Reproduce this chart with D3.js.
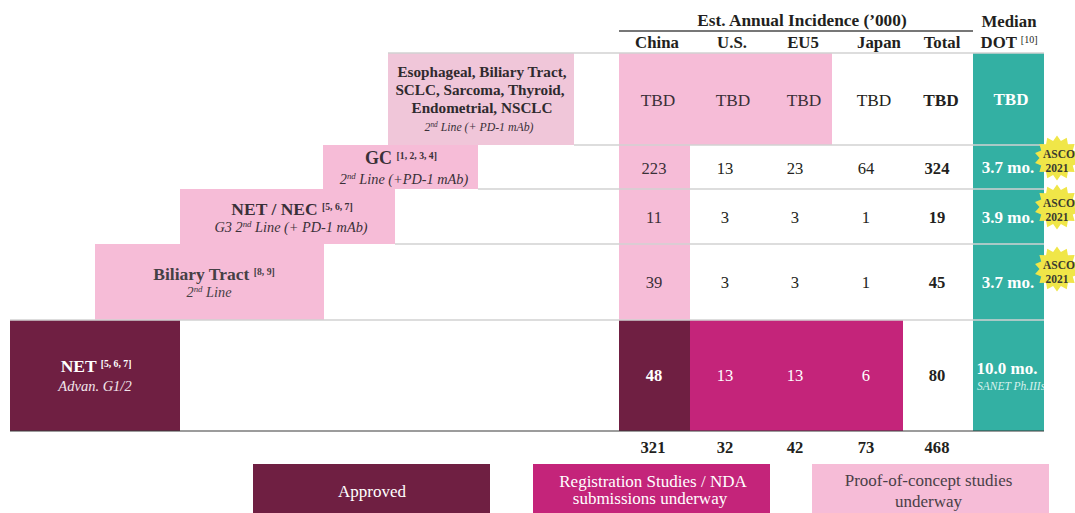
<!DOCTYPE html>
<html>
<head>
<meta charset="utf-8">
<script src="https://cdn.jsdelivr.net/npm/d3@7/dist/d3.min.js"></script>
<style>
html,body{margin:0;padding:0;background:#fff;}
svg{display:block;}
text{font-family:"Liberation Serif",serif;}
rect{shape-rendering:crispEdges;}
</style>
</head>
<body>
<svg id="chart" width="1075" height="513"></svg>
<script>
// Pipeline table: indication labels, regional incidence and duration of treatment
const regions = ["China", "U.S.", "EU5", "Japan", "Total"];
const indications = ["other", "GC", "NEC", "BTC", "NET"];
const chinaValues = ["TBD", 223, 11, 39, 48];
const usValues = ["TBD", 13, 3, 3, 13];
const eu5Values = ["TBD", 23, 3, 3, 13];
const japanValues = ["TBD", 64, 1, 1, 6];
const totalValues = ["TBD", 324, 19, 45, 80];
const columnTotals = [321, 32, 42, 73, 468];
const dotLabels = ["TBD", "3.7 mo.", "3.9 mo.", "3.7 mo.", "10.0 mo."];
const ascoFlags = [false, true, true, true, false];
const stages = ["none", "poc", "reg", "approved"];
const stageLabels = [["Approved"], ["Registration Studies / NDA", "submissions underway"], ["Proof-of-concept studies", "underway"]];
const chinaStages = ["poc", "poc", "poc", "poc", "approved"];
const usStages = ["poc", "none", "none", "none", "reg"];
const eu5Stages = ["poc", "none", "none", "none", "reg"];
const japanStages = ["none", "none", "none", "none", "reg"];

const svg = d3.select("#chart");
const colour = d3.scaleOrdinal(stages, ["none", "#f6bcd7", "#c4247a", "#6f1f42"]);
const TEAL = "#33b0a3", GREY = "#d2d2d2", INK = "#231f20";

// Row and column geometry
const rowEdges = [53, 145, 189, 244, 320, 431];
const rowTop = d3.scaleOrdinal(indications, rowEdges.slice(0, 5));
const rowBottom = d3.scaleOrdinal(indications, rowEdges.slice(1));
const rowMid = r => (rowTop(r) + rowBottom(r)) / 2;
const colX = d3.scaleBand(regions, [619, 974]);
const DOT_LEFT = 973, DOT_RIGHT = 1044;
const colText = d3.scaleOrdinal(regions, [654, 725, 795, 866, 937]);
const tbdText = d3.scaleOrdinal(regions, [658, 733, 804, 874, 941]);
const headText = d3.scaleOrdinal(regions, [657, 732, 803, 879, 942]);

const labelLeft = d3.scaleOrdinal(indications, [388, 323, 180, 95, 10]);
const labelRight = d3.scaleOrdinal(indications, [574, 478, 395, 324, 180]);

svg.append("defs").append("clipPath").attr("id", "dot-clip").append("rect")
  .attr("x", DOT_LEFT).attr("y", rowEdges[0]).attr("width", DOT_RIGHT - DOT_LEFT).attr("height", 378);

function put(parent, x, y, size, fill, opts = {}) {
  return parent.append("text").attr("x", x).attr("y", y)
    .attr("text-anchor", opts.anchor || "middle")
    .attr("font-size", size).attr("fill", fill)
    .attr("font-weight", opts.bold ? "bold" : "normal")
    .attr("font-style", opts.italic ? "italic" : "normal");
}

// Stage fills behind the regional cells
const cellStages = [chinaStages, usStages, eu5Stages, japanStages];
const cellValues = [chinaValues, usValues, eu5Values, japanValues, totalValues];
cellStages.forEach((stageList, c) => {
  svg.append("g").selectAll("rect")
    .data(indications.map((r, i) => ({ r, s: stageList[i] })).filter(d => d.s !== "none"))
    .join("rect")
    .attr("x", colX(regions[c]))
    .attr("width", colX.bandwidth())
    .attr("y", d => rowTop(d.r))
    .attr("height", d => rowBottom(d.r) - rowTop(d.r))
    .attr("fill", d => colour(d.s));
});

// Duration of treatment column
svg.append("rect").attr("x", DOT_LEFT).attr("y", rowEdges[0])
  .attr("width", DOT_RIGHT - DOT_LEFT).attr("height", rowEdges[5] - rowEdges[0]).attr("fill", TEAL);

// Indication labels on the left
const labelFill = ["#f0c6d9", "#f6bcd7", "#f6bcd7", "#f6bcd7", "#6f1f42"];
svg.append("g").selectAll("rect").data(indications).join("rect")
  .attr("x", d => labelLeft(d))
  .attr("width", d => labelRight(d) - labelLeft(d))
  .attr("y", d => rowTop(d))
  .attr("height", d => rowBottom(d) - rowTop(d))
  .attr("fill", (d, i) => labelFill[i]);

// Row rules start where the label block above ends
const ruleStart = [388, 574, 478, 395, 10];
rowEdges.slice(0, 5).forEach((y, i) => {
  svg.append("line").attr("x1", ruleStart[i]).attr("x2", DOT_RIGHT)
    .attr("y1", y).attr("y2", y).attr("stroke", GREY).attr("stroke-width", 1.4);
});
svg.append("line").attr("x1", 10).attr("x2", DOT_RIGHT).attr("y1", 431).attr("y2", 431)
  .attr("stroke", "#3a3a3a").attr("stroke-width", 1.2);
svg.append("line").attr("x1", 619).attr("x2", DOT_LEFT).attr("y1", 31).attr("y2", 31)
  .attr("stroke", "#4a4a4a").attr("stroke-width", 1.4);

// Headers
put(svg, 802, 26, 17.3, INK, { bold: true }).text("Est. Annual Incidence (\u2019000)");
regions.forEach(r => put(svg, headText(r), 48, 16.8, INK, { bold: true }).text(r));
put(svg, 1009, 27, 16.8, INK, { bold: true }).text("Median");
const dotHead = put(svg, 1009, 48, 16.8, INK, { bold: true }).text("DOT ");
dotHead.append("tspan").attr("font-size", 10).attr("font-weight", "normal").attr("dy", -5).text("[10]");

// Incidence values
cellValues.forEach((vals, c) => {
  const region = regions[c];
  vals.forEach((v, i) => {
    const r = indications[i];
    const stage = c < 4 ? cellStages[c][i] : "none";
    const onDark = stage === "approved" || stage === "reg";
    const bold = c === 4 || stage === "approved";
    const tbd = v === "TBD";
    const drop = tbd ? 6.5 : (i === 1 ? 7 : (i === 4 ? 5 : 6));
    put(svg, tbd ? tbdText(region) : colText(region), rowMid(r) + drop, tbd ? 17.3 : 16.6,
      onDark ? "#fff" : (stage === "poc" ? "#3a3038" : INK), { bold }).text(v);
  });
});
columnTotals.forEach((v, i) => put(svg, colText(regions[i]) + (i === 0 ? -1 : 0), 453, 16.6, INK, { bold: true }).text(v));

// Duration labels
const dotGroup = svg.append("g").attr("clip-path", "url(#dot-clip)");
dotLabels.forEach((v, i) => {
  const r = indications[i];
  if (i < 4) put(dotGroup, i === 0 ? 1011 : 1008, rowMid(r) + (i === 0 ? 5.5 : 6), 17, "#fff", { bold: true }).text(v);
  else {
    put(dotGroup, 1007, 374, 17, "#fff", { bold: true }).text(v);
    put(dotGroup, 977, 390, 11.5, "#d8f2ee", { italic: true, anchor: "start" }).text("SANET Ph.IIIs");
  }
});

// ASCO badges
const spikes = 14;
const star = d3.lineRadial().curve(d3.curveLinearClosed)
  .angle((d, i) => i * Math.PI / spikes)
  .radius((d, i) => i % 2 ? 17.5 : 22.5);
const badgeY = [0, 158, 207, 269];
ascoFlags.forEach((on, i) => {
  if (!on) return;
  const g = svg.append("g").attr("transform", `translate(1057,${badgeY[i]})`);
  g.append("path").attr("d", star(d3.range(spikes * 2))).attr("fill", "#f0e648");
  put(g, 2, 0, 11.5, "#3a3a30", { bold: true }).text("ASCO");
  put(g, 0, 13.5, 11.5, "#3a3a30", { bold: true }).text("2021");
});

// Indication text
function withRefs(g, x, y, size, fill, label, refs) {
  const t = put(g, x, y, size, fill, { bold: true }).text(label + " ");
  t.append("tspan").attr("font-size", 9.7).attr("dy", -5).text(refs);
}
function secondLine(g, x, y, size, fill, rest, lead = "") {
  const t = put(g, x, y, size, fill, { italic: true }).text(lead);
  t.append("tspan").text("2");
  t.append("tspan").attr("font-size", size * 0.62).attr("dy", -size * 0.33).text("nd");
  t.append("tspan").attr("dy", size * 0.33).text(" " + rest);
}
const g = svg.append("g");
["Esophageal, Biliary Tract,", "SCLC, Sarcoma, Thyroid,", "Endometrial, NSCLC"].forEach((line, i) =>
  put(g, 482 - (i === 1 ? 2 : 0), 77 + i * 18, 15.2, "#2f2a2e", { bold: true }).text(line));
secondLine(g, 479, 131, 11.8, "#3a3038", "Line (+ PD-1 mAb)");

withRefs(g, 401, 164, 18, "#3a3038", "GC", "[1, 2, 3, 4]");
secondLine(g, 404, 184, 14.3, "#3a3038", "Line (+PD-1 mAb)");

withRefs(g, 292, 215, 17.5, "#3a3038", "NET / NEC", "[5, 6, 7]");
secondLine(g, 291, 232, 14.3, "#3a3038", "Line (+ PD-1 mAb)", "G3 ");

withRefs(g, 214, 280, 17.5, "#454045", "Biliary Tract", "[8, 9]");
secondLine(g, 209, 297, 14.3, "#454045", "Line");

withRefs(g, 96, 372, 17.5, "#fff", "NET", "[5, 6, 7]");
put(g, 95, 391, 14.5, "#f3e6ec", { italic: true }).text("Advan. G1/2");

// Legend
const legendX = d3.scaleOrdinal([0, 1, 2], [253, 533, 812]);
const legendStages = ["approved", "reg", "poc"];
const legendMid = [372, 653, 928.5];
stageLabels.forEach((lines, i) => {
  svg.append("rect").attr("x", legendX(i)).attr("y", 464).attr("width", 237).attr("height", 49).attr("fill", colour(legendStages[i]));
  const fill = legendStages[i] === "poc" ? "#4a3f47" : "#fff";
  const ys = lines.length === 1 ? [497] : (i === 1 ? [487, 504] : [486, 507]);
  lines.forEach((line, j) => put(svg, legendMid[i] - (i === 1 && j === 1 ? 3 : 0), ys[j], 17, fill).text(line));
});
</script>
</body>
</html>
